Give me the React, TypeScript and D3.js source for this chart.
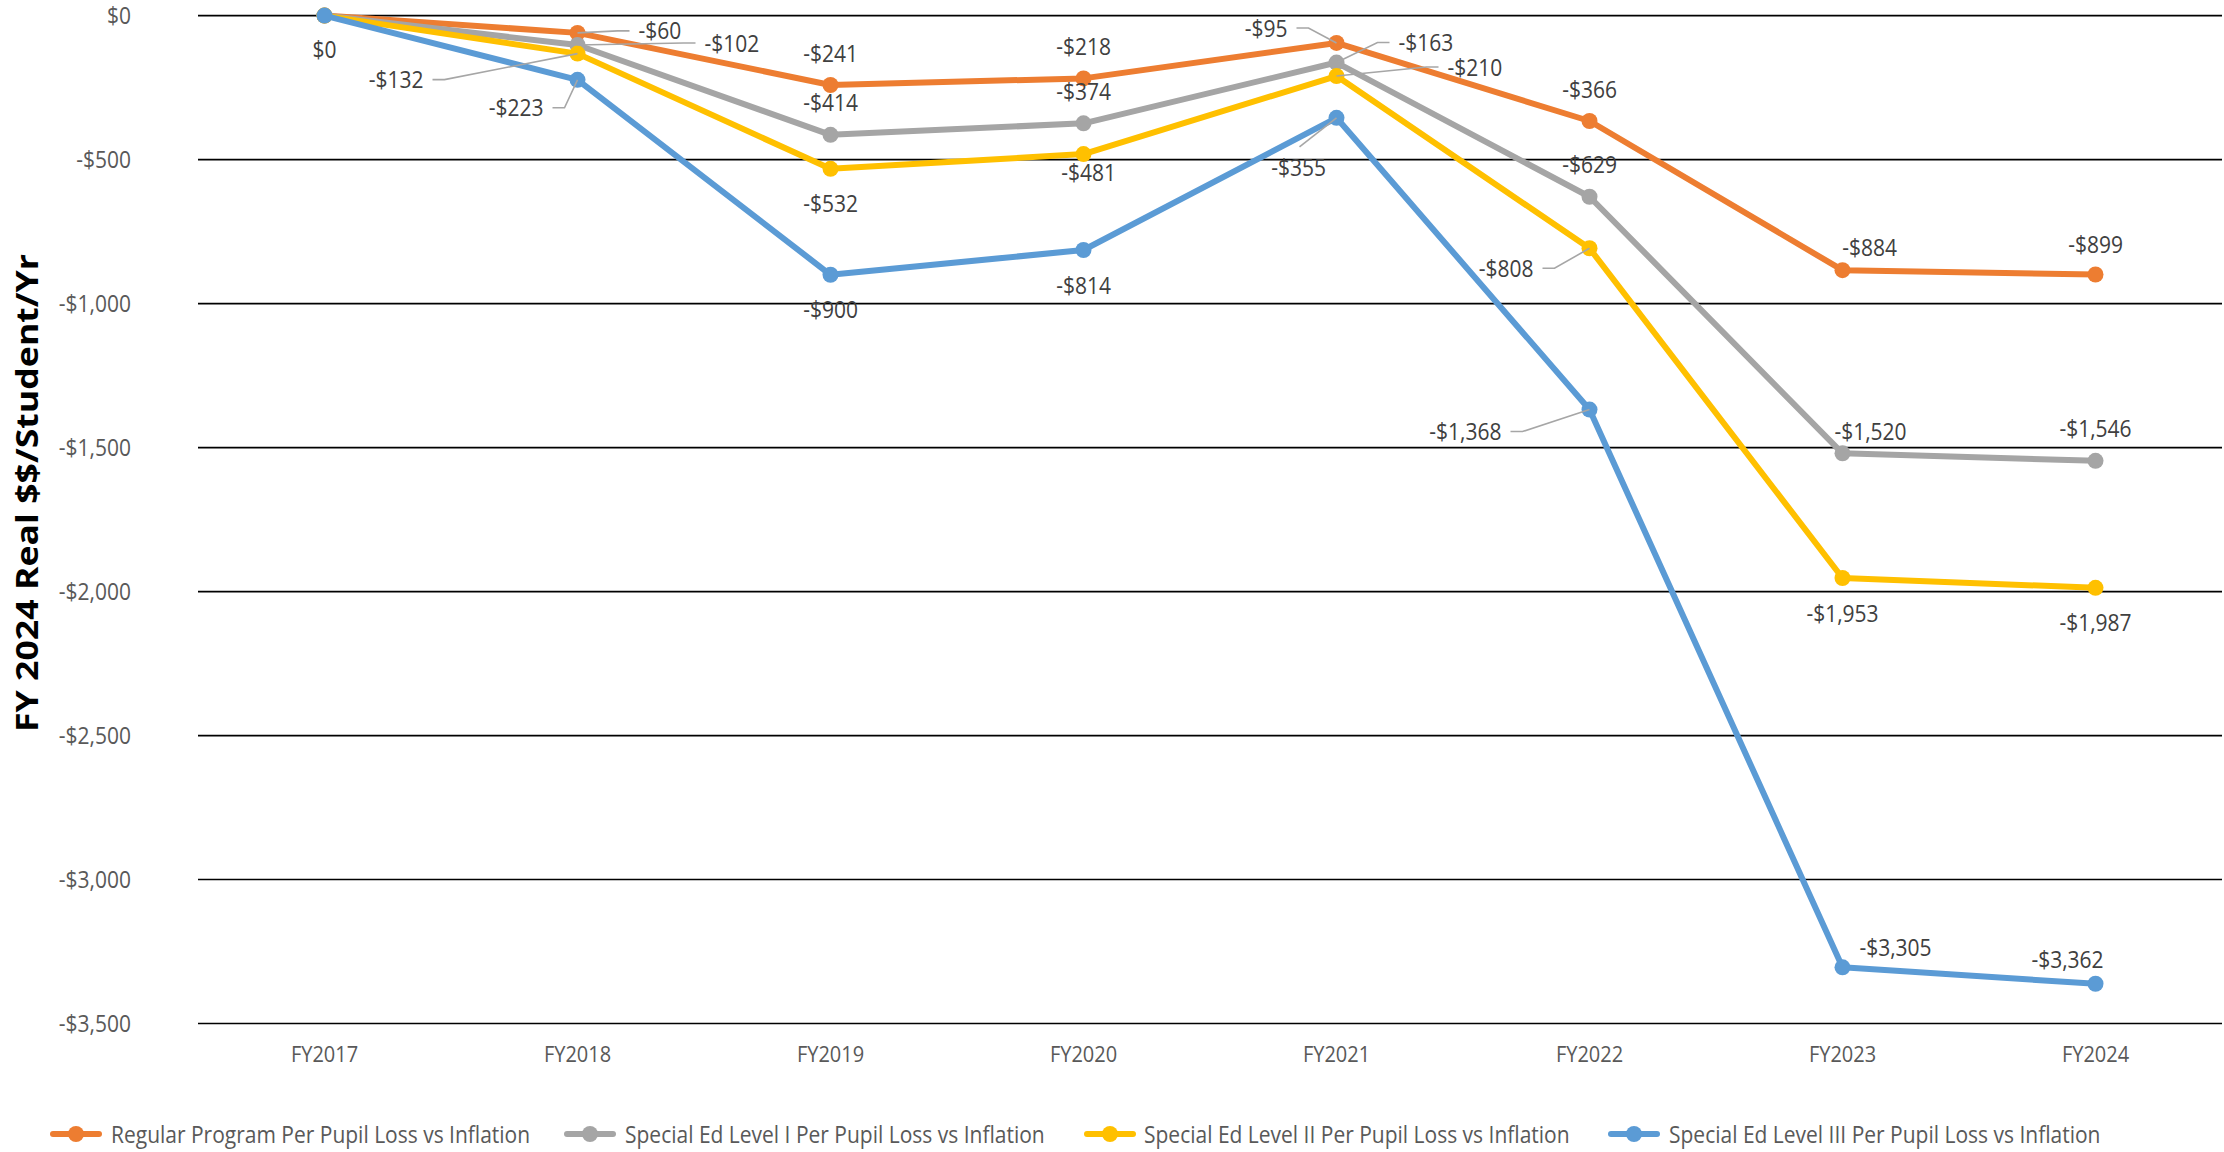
import React from 'react';
import * as d3 from 'd3';

// ---------- DATA ----------
const categories = ['FY2017', 'FY2018', 'FY2019', 'FY2020', 'FY2021', 'FY2022', 'FY2023', 'FY2024'];
const regularProgram = [0, -60, -241, -218, -95, -366, -884, -899];
const specialEdLevelI = [0, -102, -414, -374, -163, -629, -1520, -1546];
const specialEdLevelII = [0, -132, -532, -481, -210, -808, -1953, -1987];
const specialEdLevelIII = [0, -223, -900, -814, -355, -1368, -3305, -3362];
const seriesNames = [
  'Regular Program Per Pupil Loss vs Inflation',
  'Special Ed Level I Per Pupil Loss vs Inflation',
  'Special Ed Level II Per Pupil Loss vs Inflation',
  'Special Ed Level III Per Pupil Loss vs Inflation',
];
const yTicks = [0, -500, -1000, -1500, -2000, -2500, -3000, -3500];
const yAxisTitle = 'FY 2024 Real $$/Student/Yr';

// ---------- STYLE / LAYOUT ----------
const W = 2224;
const H = 1152;
const colors = ['#ED7D31', '#A5A5A5', '#FFC000', '#5B9BD5'];
const FONT = '"Open Sans", "Noto Sans", sans-serif';
const SY = 1.13; // vertical text stretch seen in the reference

type LabelPos = { a: 'start' | 'middle' | 'end'; dx: number; dy: number; leader?: 'l' | 'r' | 'b' } | null;

// label placement relative to each point (a = anchor, leader side)
const labelLayout: LabelPos[][] = [
  [
    null,
    { a: 'start', dx: 61, dy: -2, leader: 'r' },
    { a: 'middle', dx: 0, dy: -32 },
    { a: 'middle', dx: 0, dy: -32 },
    { a: 'end', dx: -49, dy: -15, leader: 'l' },
    { a: 'middle', dx: 0, dy: -32 },
    { a: 'middle', dx: 27, dy: -23 },
    { a: 'middle', dx: 0, dy: -30 },
  ],
  [
    null,
    { a: 'start', dx: 127, dy: -2, leader: 'r' },
    { a: 'middle', dx: 0, dy: -32 },
    { a: 'middle', dx: 0, dy: -32 },
    { a: 'start', dx: 62, dy: -20, leader: 'r' },
    { a: 'middle', dx: 0, dy: -32 },
    { a: 'middle', dx: 28, dy: -22 },
    { a: 'middle', dx: 0, dy: -32 },
  ],
  [
    null,
    { a: 'end', dx: -154, dy: 26, leader: 'l' },
    { a: 'middle', dx: 0, dy: 35 },
    { a: 'middle', dx: 5, dy: 18 },
    { a: 'start', dx: 111, dy: -9, leader: 'r' },
    { a: 'end', dx: -56, dy: 20, leader: 'l' },
    { a: 'middle', dx: 0, dy: 35 },
    { a: 'middle', dx: 0, dy: 35 },
  ],
  [
    { a: 'middle', dx: 0, dy: 34 },
    { a: 'end', dx: -34, dy: 28, leader: 'l' },
    { a: 'middle', dx: 0, dy: 35 },
    { a: 'middle', dx: 0, dy: 35 },
    { a: 'middle', dx: -38, dy: 50, leader: 'b' },
    { a: 'end', dx: -88, dy: 22, leader: 'l' },
    { a: 'middle', dx: 53, dy: -20 },
    { a: 'middle', dx: -28, dy: -24 },
  ],
];

const legendMarkerX = [76, 590, 1110, 1634];
const legendTextX = [111, 625, 1144, 1669];
const legendY = 1134;

const fmt = (v: number) => (v === 0 ? '$0' : (v < 0 ? '-$' : '$') + d3.format(',')(Math.abs(v)));

function T(props: {
  x: number; y: number; anchor?: string; size?: number; fill?: string; weight?: string | number; children: React.ReactNode;
}) {
  const { x, y, anchor = 'middle', size = 21, fill = '#404040', weight = 'normal', children } = props;
  return (
    <text
      transform={`translate(${x},${y}) scale(1,${SY})`}
      textAnchor={anchor}
      dy="0.36em"
      fontFamily={FONT}
      fontSize={size}
      fontWeight={weight}
      fill={fill}
    >
      {children}
    </text>
  );
}

export default function App() {
  const series = [regularProgram, specialEdLevelI, specialEdLevelII, specialEdLevelIII];

  const x = d3.scalePoint<string>().domain(categories).range([198, 2222]).padding(0.5);
  const y = d3.scaleLinear().domain([-3500, 0]).range([1023.5, 15.6]);

  const line = d3
    .line<number>()
    .x((_, i) => x(categories[i]) as number)
    .y((d) => y(d));

  const leaders: JSX.Element[] = [];
  const labels: JSX.Element[] = [];
  series.forEach((vals, si) => {
    vals.forEach((v, i) => {
      const lp = labelLayout[si][i];
      if (!lp) return;
      const px = x(categories[i]) as number;
      const py = y(v);
      const lx = px + lp.dx;
      const ly = py + lp.dy;
      labels.push(
        <T key={`l${si}-${i}`} x={lx} y={ly} anchor={lp.a}>
          {fmt(v)}
        </T>
      );
      if (lp.leader) {
        let pts: [number, number][] = [];
        if (lp.leader === 'r') {
          pts = [[lx - 9, ly], [lx - 21, ly], [px, py]];
        } else if (lp.leader === 'l') {
          pts = [[lx + 9, ly], [lx + 21, ly], [px, py]];
        } else {
          pts = [[lx + 1, ly - 21], [px, py]];
        }
        leaders.push(
          <path
            key={`ld${si}-${i}`}
            d={d3.line()(pts) as string}
            fill="none"
            stroke="#A6A6A6"
            strokeWidth={1.6}
          />
        );
      }
    });
  });

  return (
    <svg
      width={W}
      height={H}
      viewBox={`0 0 ${W} ${H}`}
      style={{ position: 'absolute', left: 0, top: 0, background: '#fff' }}
    >
      <rect x={0} y={0} width={W} height={H} fill="#fff" />
      {yTicks.map((t) => (
        <line key={`g${t}`} x1={198} x2={2222} y1={y(t)} y2={y(t)} stroke="#000" strokeWidth={1.7} />
      ))}
      {yTicks.map((t) => (
        <T key={`yt${t}`} x={131} y={y(t)} anchor="end" fill="#595959">
          {fmt(t)}
        </T>
      ))}
      {categories.map((c) => (
        <T key={`xl${c}`} x={x(c) as number} y={1054} size={20} fill="#595959">
          {c}
        </T>
      ))}
      <text
        transform={`translate(38,493) rotate(-90)`}
        textAnchor="middle"
        fontFamily={FONT}
        fontWeight="bold"
        fontSize={30}
        fill="#000"
        textLength={478}
        lengthAdjust="spacingAndGlyphs"
      >
        {yAxisTitle}
      </text>
      {series.map((vals, si) => (
        <g key={`s${si}`}>
          <path
            d={line(vals) as string}
            fill="none"
            stroke={colors[si]}
            strokeWidth={6}
            strokeLinejoin="round"
            strokeLinecap="round"
          />
          {vals.map((v, i) => (
            <circle key={i} cx={x(categories[i]) as number} cy={y(v)} r={8} fill={colors[si]} />
          ))}
        </g>
      ))}
      {leaders}
      {labels}
      {seriesNames.map((n, si) => (
        <g key={`lg${si}`}>
          <line
            x1={legendMarkerX[si] - 23}
            x2={legendMarkerX[si] + 23}
            y1={legendY}
            y2={legendY}
            stroke={colors[si]}
            strokeWidth={6}
            strokeLinecap="round"
          />
          <circle cx={legendMarkerX[si]} cy={legendY} r={8} fill={colors[si]} />
          <T x={legendTextX[si]} y={legendY} anchor="start" fill="#595959">
            {n}
          </T>
        </g>
      ))}
    </svg>
  );
}
